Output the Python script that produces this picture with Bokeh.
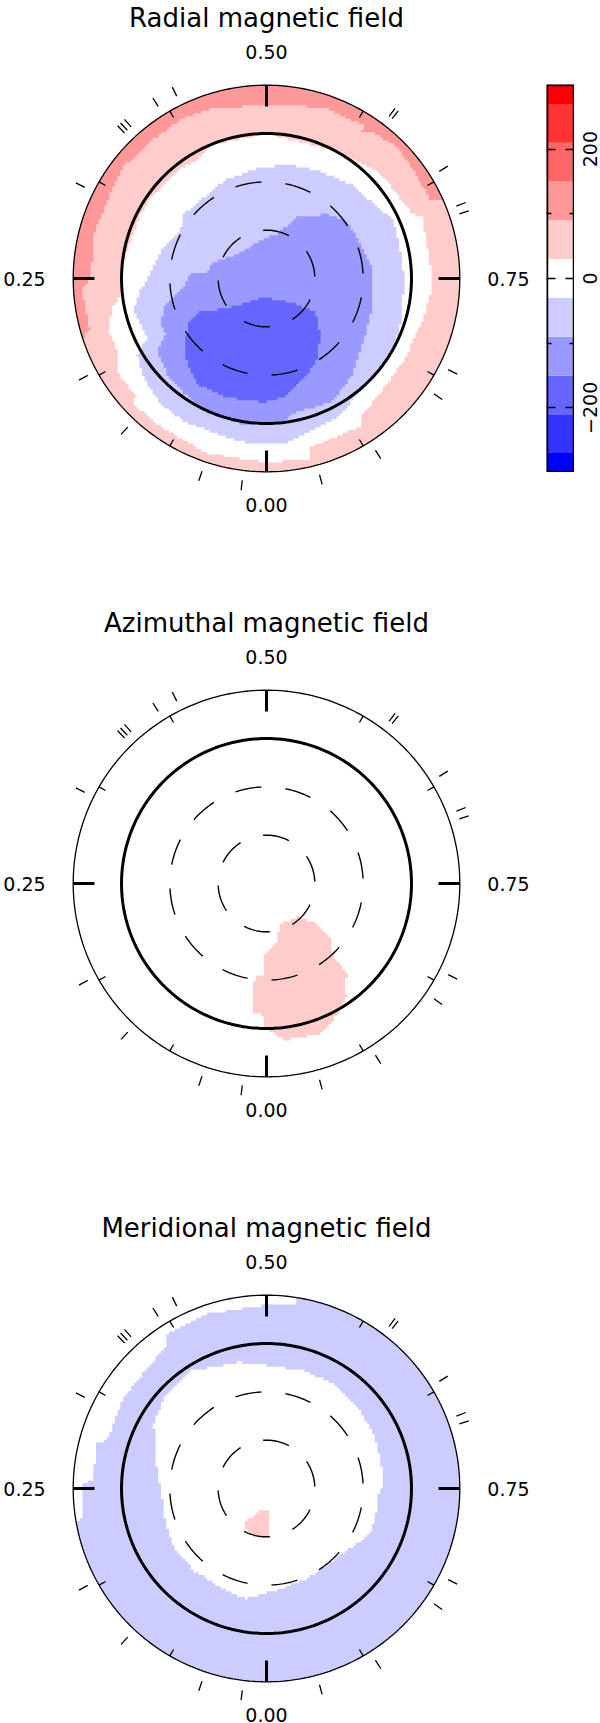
import numpy as np
from bokeh.core.properties import value
from bokeh.embed import file_html
from bokeh.layouts import column, row
from bokeh.models import FixedTicker, LinearAxis, Range1d, Title
from bokeh.plotting import figure
from bokeh.resources import INLINE

# ---- data: longitude (deg, phase*360) and colatitude (deg) outlines -----
radial_white_lon = [180,207.8,224.5,229.3,246.2,248.6,266.2,273,283.9,301,317.1,326,327,345.4,346.3,360,378.7,396.9,407.3,408.2,418.3,422.9,432.2,439.4,443.2,454.3,465.5,477,485,500.3,509.6,517.4]
radial_white_colat = [90,89.6,95,96,98.9,103.8,102,103,100.6,99.4,100.9,104,109,108.4,115.4,114.2,114.7,113,113.5,109.2,109,103,102.8,97.5,91.2,90.5,87.6,87.8,87.8,86.9,85,90]
radial_p2_lon = [72.1,74,86.2,91.4,104.4,116,127.6,140.1,152.8,161.7,174.7,180,198.5,208,213,212.6,217,224.9,233.8,244.5,245.6,245.8]
radial_p2_colat = [120,114,114.7,108.9,110.7,110,113,111.7,112.3,110.7,107.6,107.8,112,110.9,113,108.3,112.3,114.8,113.2,112.8,117.5,120]
radial_n1_lon = [191,205.2,221.7,233.2,245.6,258.3,269.6,286,299.6,317.3,324.1,333,346.5,354,365.5,377.6,390.1,400.1,411.1,419.7,423.7,436.3,443,460.9,468.8,481.2,487.9,516.4,533.4]
radial_n1_colat = [72.3,73.9,78.4,80.5,86.8,84.9,85.3,87.6,90.9,90.6,92.5,96.8,99.4,103.4,103.3,101.4,102.2,102,97.9,93,82.6,84.8,79.8,69.1,66.2,61.2,65,66.2,68.3]
radial_n2_lon = [223.3,206.7,193.5,176.1,129.7,104.4,94.2,94.5,83.8,74.2,66.7,61.1,56.5,46.1,35.6,23.9,10.1,-7,-10,-28.8,-41.8,-69.4,-96,-112.2,-125.6]
radial_n2_colat = [54.9,42.4,28.3,24.4,23.6,35.9,36.9,47.3,51.6,66.2,71.6,71.6,81.4,85.6,88.2,91,91.8,89.4,85.5,86.7,79.7,69,66,61.9,61.6]
radial_n3_lon = [54.3,8,-45,-55.2,-42.5,-29.8,-20.7,-8.3,1.2,18.3,33.3,47.5,60.5,64.5]
radial_n3_colat = [32.6,11.9,21,37,49.6,61.3,65.7,74.6,77,77.8,78.4,69.5,55.4,46.6]

azimuthal_p1_lon = [317.1,309.2,310.8,317.6,318.2,324.1,324.2,331.8,340.2,353.7,357.8,361.1,361.9,366.4,367.3,361.7,362.2,351.5,340.9,328.9]
azimuthal_p1_colat = [27.9,37.9,52.5,61.9,75.2,81.9,85.7,92.9,99.1,98,92.3,89.2,80.9,80.3,58.6,57.1,43.7,37.9,26.5,26.9]

meridional_outer_white_lon = [80.2,81.1,91.5,92.6,104.8,106.8,121.4,136.1,144.4,147.3,161.2,179.2,189,188.7]
meridional_outer_white_colat = [120,114.8,114.4,108.3,108.7,103.3,105,105.6,107.8,114.1,114.5,113.6,115,120]
meridional_inner_white_lon = [166.9,180.3,197.6,212.8,228.1,243,256.2,267.7,272.7,281.2,293.6,301.4,314.2,335.8,352,370.8,387,401.6,417.7,432.4,450.7,459.3,479.9,491.6,507.2,520.9]
meridional_inner_white_colat = [80.5,76.3,76.8,77.2,75.6,74.7,72.8,72.9,69.8,70,70.4,66,61.2,61.5,62.9,69.7,67.5,68,68.1,65.8,65.8,68.8,80.6,85.3,87.1,80.8]
meridional_p1_lon = [12,-10.3,-4.9,8.7,23.9,32.7,25.1]
meridional_p1_colat = [12.9,13.9,29.3,31.6,29.6,26,18.5]

observed_phases = [0.019,0.0514,0.1195,0.171,0.324,0.377,0.380,0.384,0.4106,0.4272,0.603,0.606,0.6617,0.692,0.6986,0.824,0.846,0.910,0.958]
major_phases = [0.0,0.25,0.5,0.75]
minor_phases = [1/12,2/12,4/12,5/12,7/12,8/12,10/12,11/12]
phase_labels = ["0.00","0.25","0.50","0.75"]
titles = ["Radial magnetic field","Azimuthal magnetic field","Meridional magnetic field"]

bar_edges = [-300,-270,-210,-150,-90,-30,30,90,150,210,270,300]
bar_colors = ["#0000FF","#3333FF","#6666FF","#9999FF","#CCCCFF","#FFFFFF","#FFCCCC","#FF9999","#FF6666","#FF3333","#FF0000"]
bar_major = [-200,0,200]
bar_major_labels = ["\u2212200","0","200"]
bar_minor = [-100,100]

# ---- layout constants -----
K = 193.3/120.0     # px per degree
PW = 532
TOP = 6             # the first title sits close to the page's top
T = 40
CY = 278
STEP = 1.68         # size of the map's stair-step, deg
FONT = "DejaVu Sans"
LABEL = "19px"
TITLE = "26px"

def xy(lon, colat):
    a = np.radians(np.asarray(lon, float))
    c = np.asarray(colat, float)
    return -c*np.sin(a), -c*np.cos(a)

def stairs(lon, colat, closed=True):
    """Outline through the read points, snapped to the map's square cells."""
    x, y = xy(lon, colat)
    if closed:
        x = np.append(x, x[0]); y = np.append(y, y[0])
    sx, sy = [], []
    for i in range(len(x)-1):
        n = max(2, int(np.hypot(x[i+1]-x[i], y[i+1]-y[i])/0.4))
        sx += np.linspace(x[i], x[i+1], n, endpoint=False).tolist()
        sy += np.linspace(y[i], y[i+1], n, endpoint=False).tolist()
    sx = np.round(np.array(sx)/STEP)*STEP
    sy = np.round(np.array(sy)/STEP)*STEP
    ox, oy = [sx[0]], [sy[0]]
    for a, b in zip(sx[1:], sy[1:]):
        if a != ox[-1] and b != oy[-1]:
            ox.append(a); oy.append(oy[-1])
        if a != ox[-1] or b != oy[-1]:
            ox.append(a); oy.append(b)
    return ox, oy

def fill(p, lon, colat, color):
    x, y = stairs(lon, colat)
    p.patch(x, y, fill_color=color, line_color=None)

def band(p, lon, colat, color):
    x, y = stairs(lon, colat, closed=False)
    arc = np.linspace(lon[-1], lon[0], 80)
    ax, ay = xy(arc, np.full(80, 120.0))
    p.patch(list(x)+ax.tolist(), list(y)+ay.tolist(), fill_color=color, line_color=None)

def disc(p, color):
    ax, ay = xy(np.linspace(0, 360, 361), np.full(361, 120.0))
    p.patch(ax, ay, fill_color=color, line_color=None)

def panel(title, height, paint):
    cy = CY + TOP
    p = figure(width=PW, height=height, toolbar_location=None, output_backend="svg",
               x_range=Range1d(-PW/2/K, PW/2/K),
               y_range=Range1d(-(height-cy)/K, (cy-T)/K),
               min_border_left=0, min_border_right=0, min_border_bottom=0, min_border_top=T,
               outline_line_color=None, background_fill_color="white")
    p.axis.visible = False
    p.grid.visible = False
    p.title = Title(text=title, align="center", text_font=FONT, text_font_size=TITLE,
                    text_font_style="normal", text_color="black", standoff=3)
    paint(p)
    # dashed latitude circles
    xs, ys = [], []
    for colat, step, span, start in [(60, 30, 15.7, 191.3), (30, 60, 31.6, 176.0)]:
        for k in range(360//step):
            lon = np.linspace(start+k*step, start+k*step+span, 16)
            x, y = xy(lon, np.full(16, colat))
            xs.append(x.tolist()); ys.append(y.tolist())
    p.multi_line(xs, ys, line_color="black", line_width=1.4)
    # circles
    lon = np.linspace(0, 360, 361)
    x, y = xy(lon, np.full(361, 90.0))
    p.line(x, y, line_color="black", line_width=3)
    x, y = xy(lon, np.full(361, 120.0))
    p.line(x, y, line_color="black", line_width=1.3)
    # ticks
    lons = np.array(major_phases)*360
    x0, y0 = xy(lons, np.full(4, 120.0)); x1, y1 = xy(lons, np.full(4, 106.8))
    p.segment(x0, y0, x1, y1, line_color="black", line_width=3)
    lons = np.array(minor_phases)*360
    x0, y0 = xy(lons, np.full(8, 120.0)); x1, y1 = xy(lons, np.full(8, 115.4))
    p.segment(x0, y0, x1, y1, line_color="black", line_width=1.3)
    lons = np.array(observed_phases)*360
    n = len(lons)
    x0, y0 = xy(lons, np.full(n, 126.2)); x1, y1 = xy(lons, np.full(n, 132.4))
    p.segment(x0, y0, x1, y1, line_color="black", line_width=1.3)
    # phase labels
    lx = [0, -242/K, 0, 242/K]
    ly = [-226.7/K, 0, 226.7/K, 0]
    p.text(lx, ly, text=phase_labels, text_align="center", text_baseline="middle",
           text_font=value(FONT), text_font_size=LABEL, text_color="black")
    return p

def paint_radial(p):
    disc(p, bar_colors[6])
    fill(p, radial_white_lon, radial_white_colat, "#FFFFFF")
    band(p, radial_p2_lon, radial_p2_colat, bar_colors[7])
    fill(p, radial_n1_lon, radial_n1_colat, bar_colors[4])
    fill(p, radial_n2_lon, radial_n2_colat, bar_colors[3])
    fill(p, radial_n3_lon, radial_n3_colat, bar_colors[2])

def paint_azimuthal(p):
    fill(p, azimuthal_p1_lon, azimuthal_p1_colat, bar_colors[6])

def paint_meridional(p):
    disc(p, bar_colors[4])
    band(p, meridional_outer_white_lon, meridional_outer_white_colat, "#FFFFFF")
    fill(p, meridional_inner_white_lon, meridional_inner_white_colat, "#FFFFFF")
    fill(p, meridional_p1_lon, meridional_p1_colat, bar_colors[6])

p1 = panel(titles[0], 605, paint_radial)
p2 = panel(titles[1], 605, paint_azimuthal)
p3 = panel(titles[2], 513+TOP+4, paint_meridional)

# ---- colour bar -----
bar_y = Range1d(-300, 300)
cb = figure(width=42, height=490, frame_width=28, frame_height=388, toolbar_location=None,
            output_backend="svg", x_range=Range1d(0, 1), y_range=bar_y,
            y_axis_location="right", min_border_top=84+TOP, min_border_left=14,
            min_border_right=0, min_border_bottom=0, outline_line_color=None)
cb.xaxis.visible = False
cb.grid.visible = False
cb.quad(left=0, right=1, bottom=bar_edges[:-1], top=bar_edges[1:],
        fill_color=bar_colors, line_color=None)
cb.quad(left=[0], right=[1], bottom=[bar_edges[0]], top=[bar_edges[-1]],
        fill_color=None, line_color="black", line_width=3.5)
ticker = FixedTicker(ticks=bar_major, minor_ticks=bar_minor)
blank = {-200: "", 0: "", 200: ""}
ax = cb.yaxis[0]
ax.ticker = ticker
ax.axis_line_color = None
ax.major_tick_in = 9; ax.major_tick_out = 0
ax.minor_tick_in = 5; ax.minor_tick_out = 0
ax.major_tick_line_width = 1.5; ax.minor_tick_line_width = 1.5
ax.major_label_overrides = blank
ax.major_label_text_font_size = "0px"
ax.major_label_standoff = 0
left = LinearAxis(ticker=ticker, axis_line_color=None, major_tick_in=9, major_tick_out=0,
                  minor_tick_in=5, minor_tick_out=0, major_tick_line_width=1.5,
                  minor_tick_line_width=1.5, major_label_overrides=blank,
                  major_label_text_font_size="0px", major_label_standoff=0)
cb.add_layout(left, "left")

# rotated colour-bar labels, centred on their ticks
cl = figure(width=26, height=490, frame_width=26, frame_height=388, toolbar_location=None,
            output_backend="svg", x_range=Range1d(0, 26), y_range=bar_y,
            min_border_top=84+TOP, min_border_left=0, min_border_right=0, min_border_bottom=0,
            outline_line_color=None)
cl.axis.visible = False
cl.grid.visible = False
cl.text([15]*3, bar_major, text=bar_major_labels, angle=np.pi/2, text_align="center",
        text_baseline="middle", text_font=value(FONT), text_font_size=LABEL, text_color="black")

layout = row(column(p1, p2, p3, spacing=0), cb, cl, spacing=0, margin=(-TOP, 0, 0, 0))
open("out.html", "w").write(file_html(layout, INLINE))
